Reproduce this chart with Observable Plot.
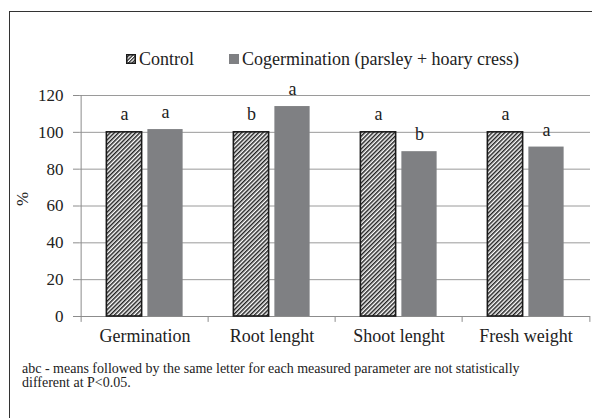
<!DOCTYPE html>
<html>
<head>
<meta charset="utf-8">
<script src="https://cdn.jsdelivr.net/npm/d3@7"></script>
<script src="https://cdn.jsdelivr.net/npm/@observablehq/plot@0.6"></script>
<style>
  html, body { margin: 0; padding: 0; background: #fff; }
  #wrap { position: relative; width: 592px; height: 418px; overflow: hidden; background: #fff; font-family: "Liberation Serif", "DejaVu Serif", serif; color: #222; }
  #frame { position: absolute; left: 9px; top: 11px; width: 640px; height: 460px; border-left: 1.5px solid #333; border-top: 1.5px solid #333; }
  #chart { position: absolute; left: 0; top: 0; }
  #legend { position: absolute; top: 49px; left: 0; width: 592px; height: 20px; font-size: 18px; }
  .li { position: absolute; top: 0; display: flex; align-items: center; height: 20px; white-space: nowrap; }
  .li svg { margin-right: 3px; }
  #note { position: absolute; left: 22px; top: 362px; font-size: 14px; line-height: 13.5px; white-space: nowrap; }
  #chart svg text { font-family: "Liberation Serif", "DejaVu Serif", serif; }
</style>
</head>
<body>
<div id="wrap">
  <div id="frame"></div>
  <div id="chart"></div>
  <div id="legend"></div>
  <div id="note"></div>
</div>
<script>
const categories = ["Germination", "Root lenght", "Shoot lenght", "Fresh weight"];
const controlValues = [100, 100, 100, 100];
const cogermValues = [101.5, 114, 89.5, 92];
const controlLetters = ["a", "b", "a", "a"];
const cogermLetters = ["a", "a", "b", "a"];
const seriesNames = ["Control", "Cogermination (parsley + hoary cress)"];
const yTicks = [0, 20, 40, 60, 80, 100, 120];
const noteLines = ["abc - means followed  by the same letter  for each measured parameter are not statistically", "different at P<0.05."];

const data = categories.map((c, i) => ({
  cat: c, control: controlValues[i], cogerm: cogermValues[i],
  lc: controlLetters[i], lg: cogermLetters[i]
}));

const W = 592, H = 418, mL = 79, mR = 2, mT = 95, mB = 102;
const bw = (W - mL - mR) / categories.length;
const barW = 36, gap = 5;
const outer = bw / 2 - gap / 2 - barW;
const inner = bw / 2 + gap / 2;
const off = gap / 2 + barW / 2;
const FONT = '"Liberation Serif", "DejaVu Serif", serif';

const plot = Plot.plot({
  width: W, height: H,
  marginLeft: mL, marginRight: mR, marginTop: mT, marginBottom: mB,
  style: { background: "transparent", fontFamily: FONT, color: "#222" },
  x: { domain: categories, padding: 0 },
  y: { domain: [0, 120] },
  marks: [
    Plot.gridY(yTicks, { stroke: "#9a9a9a", strokeOpacity: 1, strokeWidth: 1 }),
    Plot.ruleY([0], { stroke: "#8c8c8c", strokeWidth: 1 }),
    Plot.ruleX(categories, { x: d => d, dx: -bw / 2, y1: 0, y2: -3.2, stroke: "#8c8c8c" }),
    Plot.ruleX([categories[categories.length - 1]], { x: d => d, dx: bw / 2, y1: 0, y2: -3.2, stroke: "#8c8c8c" }),
    Plot.ruleX([categories[0]], { x: d => d, dx: -bw / 2, y1: 0, y2: 120, stroke: "#8c8c8c" }),
    Plot.axisY({ ticks: yTicks, tickSize: 6, tickPadding: 10, fontSize: 17, stroke: "#8c8c8c", fill: "#222", label: null }),
    Plot.axisX({ tickSize: 0, tickPadding: 13, fontSize: 18, fill: "#222", label: null }),
    Plot.barY(data, { x: "cat", y: "control", fill: "url(#hatch)", stroke: "#1a1a1a", strokeWidth: 1.6, insetLeft: outer, insetRight: bw - outer - barW }),
    Plot.barY(data, { x: "cat", y: "cogerm", fill: "#7f8083", insetLeft: inner, insetRight: bw - inner - barW }),
    Plot.text(data, { x: "cat", y: "control", text: "lc", dx: -off, dy: -18, fontSize: 18, fill: "#222" }),
    Plot.text(data, { x: "cat", y: "cogerm", text: "lg", dx: off, dy: -17, fontSize: 18, fill: "#222" }),
    Plot.text(["%"], { frameAnchor: "left", dx: -57, rotate: -90, fontSize: 17, fill: "#222" })
  ]
});

const defs = d3.select(plot).insert("defs", ":first-child");
const pat = defs.append("pattern").attr("id", "hatch").attr("patternUnits", "userSpaceOnUse")
  .attr("width", 3).attr("height", 3).attr("patternTransform", "rotate(45)");
pat.append("rect").attr("width", 3).attr("height", 3).attr("fill", "#fff");
pat.append("line").attr("x1", 0.75).attr("y1", 0).attr("x2", 0.75).attr("y2", 3).attr("stroke", "#222").attr("stroke-width", 1.5);

document.getElementById("chart").appendChild(plot);

// legend
const legend = document.getElementById("legend");
const lx = [126, 229];
seriesNames.forEach((name, i) => {
  const item = document.createElement("div");
  item.className = "li";
  item.style.left = lx[i] + "px";
  const sw = i === 0
    ? `<svg width="10" height="10"><defs><pattern id="hatchL" patternUnits="userSpaceOnUse" width="2.5" height="2.5" patternTransform="rotate(45)"><rect width="2.5" height="2.5" fill="#fff"/><line x1="0.6" y1="0" x2="0.6" y2="2.5" stroke="#222" stroke-width="1.2"/></pattern></defs><rect x="0.75" y="0.75" width="8.5" height="8.5" fill="url(#hatchL)" stroke="#1a1a1a" stroke-width="1.5"/></svg>`
    : `<svg width="10" height="10"><rect width="10" height="10" fill="#7f8083"/></svg>`;
  item.innerHTML = sw + `<span>${name}</span>`;
  legend.appendChild(item);
});

document.getElementById("note").innerHTML = noteLines.join("<br>");
</script>
</body>
</html>
